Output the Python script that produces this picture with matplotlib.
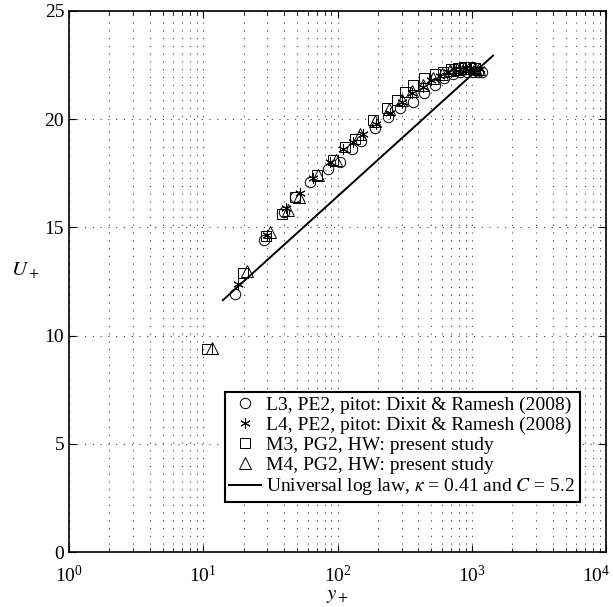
import matplotlib
matplotlib.use("Agg")
import matplotlib.pyplot as plt
import matplotlib.transforms as mtransforms
import numpy as np
from matplotlib.ticker import LogLocator, NullFormatter

plt.rcParams['font.family'] = ['Liberation Serif', 'DejaVu Serif']
plt.rcParams['mathtext.fontset'] = 'stix'

# L3, PE2, pitot (circles)
l3_yplus = [17.2, 28.4, 40, 48, 62, 85, 104, 128, 150, 190, 238, 290, 365, 440, 530, 620, 720, 820, 920, 1020, 1120, 1200]
l3_u = [11.9, 14.4, 15.7, 16.4, 17.1, 17.7, 18.0, 18.6, 19.0, 19.6, 20.1, 20.5, 20.8, 21.2, 21.6, 21.9, 22.1, 22.2, 22.2, 22.2, 22.2, 22.2]

# L4, PE2, pitot (asterisks)
l4_yplus = [18.2, 29.8, 41.3, 52.6, 65.7, 88, 110, 130, 155, 195, 245, 300, 360, 430, 500, 580, 660, 740, 820, 900, 980, 1060, 1150]
l4_u = [12.4, 14.65, 15.9, 16.6, 17.3, 18.0, 18.6, 18.95, 19.3, 19.8, 20.3, 20.8, 21.2, 21.5, 21.8, 22.0, 22.2, 22.3, 22.3, 22.35, 22.35, 22.3, 22.3]

# M3, PG2, HW (squares)
m3_yplus = [10.7, 19.8, 29.3, 38.6, 48.2, 70.3, 92.6, 113.7, 135, 184, 234, 277, 318, 365, 440, 530, 610, 700, 790, 880, 970, 1060]
m3_u = [9.4, 12.9, 14.6, 15.6, 16.4, 17.4, 18.1, 18.7, 19.1, 19.96, 20.5, 20.9, 21.26, 21.6, 21.9, 22.1, 22.2, 22.3, 22.35, 22.4, 22.4, 22.35]

# M4, PG2, HW (triangles)
m4_yplus = [11.6, 21.2, 31.4, 42.7, 52, 72, 98, 147, 190, 240, 300, 360, 430, 510, 600, 690, 780, 870, 960, 1050, 1140]
m4_u = [9.45, 13.0, 14.8, 15.8, 16.4, 17.4, 18.1, 19.3, 19.9, 20.45, 20.9, 21.3, 21.6, 21.9, 22.1, 22.25, 22.3, 22.35, 22.35, 22.35, 22.3]

# log law
kappa = 0.41
C = 5.2
loglaw_yplus = np.array([14.0, 1440.0])
loglaw_u = np.log(loglaw_yplus) / kappa + C

labels = ['L3, PE2, pitot: Dixit & Ramesh (2008)',
          'L4, PE2, pitot: Dixit & Ramesh (2008)',
          'M3, PG2, HW: present study',
          'M4, PG2, HW: present study',
          r'Universal log law, $\kappa$ = 0.41 and $C$ = 5.2']

fig = plt.figure(figsize=(6.13, 6.07), dpi=100)
ax = fig.add_axes([0.1126, 0.0906, 0.8760, 0.8913])

mk = dict(linestyle='none', color='black', mfc='none', mew=0.7)
ax.plot(l3_yplus, l3_u, marker='o', ms=7.5, label=labels[0], **mk)
ax.plot(l4_yplus, l4_u, marker=(6, 2, 0), ms=7.5, label=labels[1], **mk)
ax.plot(m3_yplus, m3_u, marker='s', ms=7, label=labels[2], **mk)
ax.plot(m4_yplus, m4_u, marker='^', ms=8, label=labels[3], **mk)
ax.plot(loglaw_yplus, loglaw_u, color='black', lw=1.4, label=labels[4])

ax.set_xscale('log')
ax.set_xlim(1, 1e4)
ax.set_ylim(0, 25)
ax.set_xticks([1, 10, 100, 1000, 10000])
ax.set_yticks([0, 5, 10, 15, 20, 25])
ax.xaxis.set_minor_locator(LogLocator(base=10, subs=np.arange(2, 10), numticks=20))
ax.xaxis.set_minor_formatter(NullFormatter())

ax.grid(True, which='major', linestyle=(0, (1, 6)), color='0.25', lw=0.8)
ax.grid(True, which='minor', axis='x', linestyle=(0, (1, 6)), color='0.25', lw=0.8)

ax.tick_params(which='both', direction='in', top=True, right=True, labelsize=14)
ax.tick_params(which='major', length=5, width=0.8)
ax.tick_params(which='minor', length=3, width=0.6)
ax.tick_params(axis='x', pad=9)
for s in ax.spines.values():
    s.set_linewidth(1.2)

# keep the last x tick label inside the figure, as in the original
fig.canvas.draw()
shift = mtransforms.ScaledTranslation(-10 / 100, 0, fig.dpi_scale_trans)
for tick in ax.xaxis.get_major_ticks():
    if tick.get_loc() >= 1e4 * 0.999:
        tick.label1.set_transform(tick.label1.get_transform() + shift)

ax.set_xlabel('$y_+$', fontsize=15, labelpad=0)
ax.set_ylabel('$U_+$', fontsize=15, rotation=0, labelpad=14)

leg = ax.legend(loc='lower right', bbox_to_anchor=(0.952, 0.092), fontsize=14,
                fancybox=False, edgecolor='black', framealpha=1,
                borderpad=0.25, labelspacing=0.12, handlelength=1.6,
                handletextpad=0.3, borderaxespad=0)
leg.get_frame().set_linewidth(1.5)

plt.savefig('out.png', dpi=100)
